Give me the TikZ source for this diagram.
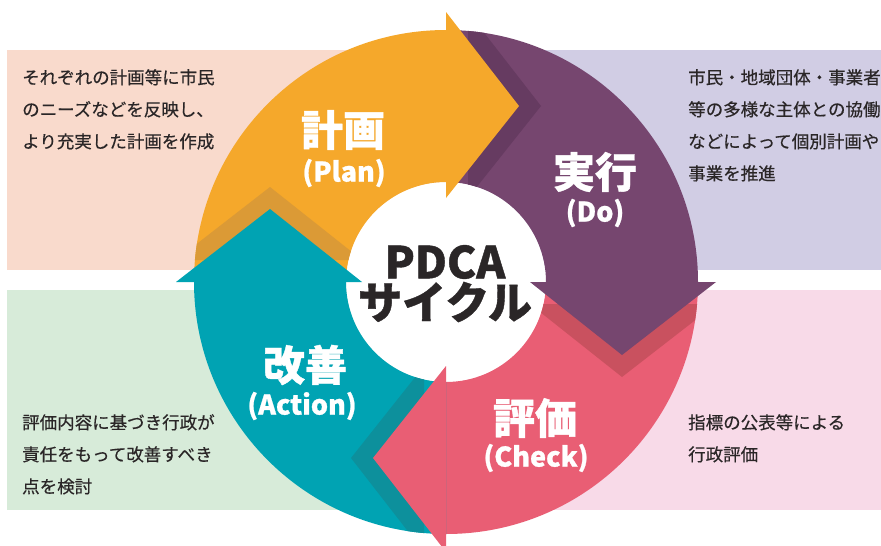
\documentclass[tikz,border=0pt]{standalone}
\usepackage{fontspec}
\newfontfamily\jp[FakeBold=0.45]{Noto Sans CJK JP}
\newfontfamily\jph[BoldFeatures={FakeBold=0.9}]{Noto Sans CJK JP}
\definecolor{cOrange}{HTML}{F5A82B}
\definecolor{cOrangeSh}{HTML}{DB9A36}
\definecolor{cPurple}{HTML}{76466F}
\definecolor{cPurpleSh}{HTML}{663B61}
\definecolor{cPink}{HTML}{E95E74}
\definecolor{cPinkSh}{HTML}{C9515F}
\definecolor{cTeal}{HTML}{00A3B3}
\definecolor{cTealSh}{HTML}{0D909C}
\definecolor{pPeach}{HTML}{F9DACC}
\definecolor{pLav}{HTML}{D1CDE4}
\definecolor{pMint}{HTML}{D7EBD9}
\definecolor{pRose}{HTML}{F8DAE8}
\definecolor{txt}{HTML}{2A2627}
\newcommand\ringsector[3]{\fill[#1] (#2:252) arc[start angle=#2,end angle=#3,radius=252] -- (#3:100) arc[start angle=#3,end angle=#2,radius=100] -- cycle;}
\newcommand\arrowhead[3]{%
  \begin{scope}[rotate=#1]
    \begin{scope}[even odd rule]
      \clip (0,0) circle (252) (0,0) circle (100);
      \fill[#3] (22,84) -- (95,176) -- (22,270) -- cycle;
    \end{scope}
    \fill[#2] (0,84) -- (73,176) -- (0,270) -- cycle;
  \end{scope}}
\tikzset{
  ptxt/.style={font=\jp\fontsize{17.5}{20}\selectfont, text=txt, anchor=base west, inner sep=0},
  biglab/.style={font=\jph\bfseries\fontsize{42}{42}\selectfont, text=white, inner sep=0},
  sublab/.style={font=\jph\bfseries\fontsize{27}{27}\selectfont, text=white, inner sep=0},
  centerlab/.style={font=\jph\bfseries\fontsize{44}{44}\selectfont, text=txt, inner sep=0}
}
\begin{document}
\begin{tikzpicture}[x=1pt,y=1pt]
\useasboundingbox (0,0) rectangle (881,-546);
\fill[white] (0,0) rectangle (881,-546);
% background panels
\fill[pPeach] (7,-50) rectangle (446,-270);
\fill[pLav] (446,-50) rectangle (881,-270);
\fill[pMint] (7,-290) rectangle (446,-510);
\fill[pRose] (446,-290) rectangle (881,-510);
% cycle
\begin{scope}[shift={(446,-282)}]
  \fill[white] (0,0) circle (100);
  \ringsector{cOrange}{180}{90}
  \ringsector{cPurple}{90}{0}
  \ringsector{cPink}{0}{-90}
  \ringsector{cTeal}{-90}{-180}
  \arrowhead{0}{cOrange}{cPurpleSh}
  \arrowhead{-90}{cPurple}{cPinkSh}
  \arrowhead{-180}{cPink}{cTealSh}
  \arrowhead{90}{cTeal}{cOrangeSh}
\end{scope}
% stage labels
\node[biglab] (plan) at (343,-130) {計画};
\node[sublab] (planen) at (344,-173) {(Plan)};
\node[biglab] (do) at (595,-172) {実行};
\node[sublab] (doen) at (595,-213) {(Do)};
\node[biglab] (check) at (535,-418) {評価};
\node[sublab] (checken) at (536,-458) {(Check)};
\node[biglab] (act) at (305,-365) {改善};
\node[sublab] (acten) at (302,-406) {(Action)};
\node[centerlab] (pdca) at (445,-262) {PDCA};
\node[centerlab] (cycle) at (445,-302) {サイクル};
% panel texts
\node[ptxt] (tl1) at (22,-84) {それぞれの計画等に市民};
\node[ptxt] (tl2) at (22,-116) {のニーズなどを反映し、};
\node[ptxt] (tl3) at (22,-148) {より充実した計画を作成};
\node[ptxt] (tr1) at (688,-84) {市民・地域団体・事業者};
\node[ptxt] (tr2) at (688,-116) {等の多様な主体との協働};
\node[ptxt] (tr3) at (688,-148) {などによって個別計画や};
\node[ptxt] (tr4) at (688,-180) {事業を推進};
\node[ptxt] (bl1) at (22,-429) {評価内容に基づき行政が};
\node[ptxt] (bl2) at (22,-461) {責任をもって改善すべき};
\node[ptxt] (bl3) at (22,-493) {点を検討};
\node[ptxt] (br1) at (688,-429) {指標の公表等による};
\node[ptxt] (br2) at (688,-461) {行政評価};
\end{tikzpicture}
\end{document}
